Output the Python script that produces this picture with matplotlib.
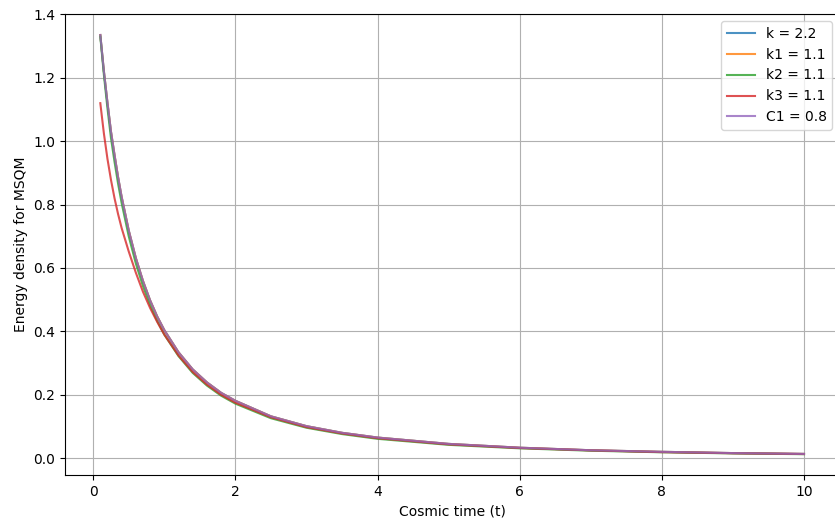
import matplotlib.pyplot as plt

# cosmic time samples
t = [0.1, 0.15, 0.2, 0.25, 0.3, 0.35, 0.4, 0.5, 0.6, 0.7, 0.8, 0.9, 1.0,
     1.2, 1.4, 1.6, 1.8, 2.0, 2.5, 3.0, 3.5, 4.0, 5.0, 6.0, 7.0, 8.0, 9.0, 10.0]

# energy density values
rho_k = [1.335, 1.221, 1.122, 1.03, 0.956, 0.886, 0.824, 0.718, 0.631, 0.559, 0.498, 0.447, 0.404,
         0.334, 0.280, 0.239, 0.206, 0.181, 0.132, 0.101, 0.080, 0.065, 0.045, 0.033, 0.025, 0.020, 0.016, 0.0134]
rho_k1 = [1.335, 1.221, 1.122, 1.03, 0.956, 0.886, 0.824, 0.718, 0.631, 0.559, 0.498, 0.447, 0.404,
          0.334, 0.280, 0.239, 0.206, 0.181, 0.132, 0.101, 0.080, 0.065, 0.045, 0.033, 0.025, 0.020, 0.016, 0.0134]
rho_k2 = [1.33, 1.21, 1.105, 1.01, 0.935, 0.866, 0.805, 0.700, 0.614, 0.543, 0.483, 0.433, 0.390,
          0.322, 0.269, 0.229, 0.197, 0.172, 0.126, 0.096, 0.076, 0.061, 0.042, 0.031, 0.0235, 0.0185, 0.015, 0.0125]
rho_k3 = [1.12, 1.025, 0.945, 0.878, 0.82, 0.77, 0.726, 0.652, 0.585, 0.525, 0.474, 0.430, 0.390,
          0.324, 0.272, 0.232, 0.200, 0.175, 0.129, 0.098, 0.078, 0.063, 0.0435, 0.032, 0.0245, 0.019, 0.0155, 0.013]
rho_c1 = [1.335, 1.221, 1.122, 1.03, 0.956, 0.886, 0.824, 0.718, 0.631, 0.559, 0.498, 0.447, 0.404,
          0.334, 0.280, 0.239, 0.206, 0.181, 0.132, 0.101, 0.080, 0.065, 0.045, 0.033, 0.025, 0.020, 0.016, 0.0134]

labels = ['k = 2.2', 'k1 = 1.1', 'k2 = 1.1', 'k3 = 1.1', 'C1 = 0.8']

fig = plt.figure(figsize=(8.35, 5.21), dpi=100)
ax = fig.add_axes([0.078, 0.088, 0.927, 0.885])

for rho, lab in zip([rho_k, rho_k1, rho_k2, rho_k3, rho_c1], labels):
    ax.plot(t, rho, label=lab, alpha=0.8)

ax.set_xlabel('Cosmic time (t)')
ax.set_ylabel('Energy density for MSQM')
ax.grid(True)
ax.legend(loc='upper right')

fig.savefig('out.png', dpi=100)
